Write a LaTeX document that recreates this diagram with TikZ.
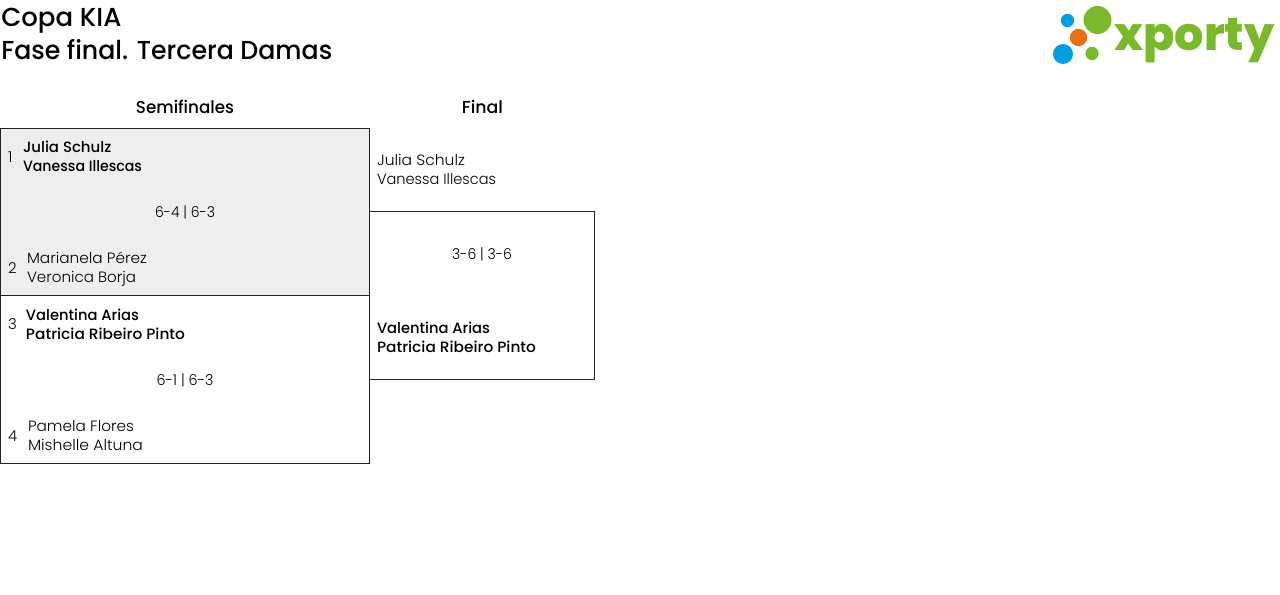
\documentclass[tikz,border=0pt]{standalone}
\usepackage{fontspec}
\setmainfont{Poppins}
\definecolor{xgreen}{HTML}{7AB929}
\definecolor{xblue}{HTML}{009EE3}
\definecolor{xorange}{HTML}{E9710A}
\definecolor{panel}{HTML}{EEEEEE}
\definecolor{ink}{HTML}{222222}
\newcommand{\fs}[1]{\fontsize{#1}{#1}\selectfont}
% text squeezed to a given width in reference pixels, height unchanged
\newcommand{\fitw}[2]{\resizebox{#1\dimexpr 0.75pt\relax}{\height}{#2}}
\tikzset{
  x=0.75pt,y=-0.75pt,
  boxa/.style={draw=ink,line width=0.75pt,rectangle,inner sep=0pt,outer sep=0pt,anchor=north west},
  txt/.style={anchor=base west,inner sep=0pt,outer sep=0pt,text=black,font=\fs{11.2}\fontspec{Poppins Light}},
  win/.style={txt,text=black,font=\fs{11.2}\fontspec{Poppins Medium}},
  mid/.style={txt,anchor=base},
  head/.style={anchor=base,inner sep=0pt,font=\fs{13}\fontspec{Poppins Medium}},
  ttl/.style={anchor=base west,inner sep=0pt,font=\fs{19.5}\fontspec{Poppins Medium}},
  dot/.style={circle,inner sep=0pt,outer sep=0pt}
}
\begin{document}
\begin{tikzpicture}
\useasboundingbox (0,0) rectangle (1280,595);
\fill[white] (0,0) rectangle (1280,595);
\node[ttl] (t1) at (1,27) {Copa KIA};
\node[ttl] (t2) at (1,60) {\fitw{331}{Fase final. Tercera Damas}};
\node[head] (h1) at (185,114) {\fitw{98}{Semifinales}};
\node[head] (h2) at (482.5,114) {Final};
% boxes
\node[boxa,fill=panel,minimum width=276.75pt,minimum height=125.25pt] (b1) at (0.5,128.5) {};
\node[boxa,minimum width=276.75pt,minimum height=126pt] (b2) at (0.5,295.5) {};
\node[boxa,minimum width=168.75pt,minimum height=126pt] (b3) at (369.5,211.5) {};
% semifinal 1
\node[txt] (n1) at (8,163) {1};
\node[win] (p1a) at (23,153) {Julia Schulz};
\node[win] (p1b) at (23,172) {\fitw{119}{Vanessa Illescas}};
\node[mid] (s1) at (185,218) {\fitw{60}{6-4 | 6-3}};
\node[txt] (n2) at (8,273) {2};
\node[txt] (p2a) at (27,263) {\fitw{120}{Marianela Pérez}};
\node[txt] (p2b) at (27,282) {\fitw{109}{Veronica Borja}};
% semifinal 2
\node[txt] (n3) at (8,329) {3};
\node[win] (p3a) at (26,320) {\fitw{113}{Valentina Arias}};
\node[win] (p3b) at (26,339) {\fitw{159}{Patricia Ribeiro Pinto}};
\node[mid] (s2) at (185,385) {\fitw{57}{6-1 | 6-3}};
\node[txt] (n4) at (8,441) {4};
\node[txt] (p4a) at (28,431) {\fitw{106}{Pamela Flores}};
\node[txt] (p4b) at (28,450) {\fitw{115}{Mishelle Altuna}};
% final
\node[txt] (f1a) at (377,166) {\fitw{88}{Julia Schulz}};
\node[txt] (f1b) at (377,185) {\fitw{119}{Vanessa Illescas}};
\node[mid] (s3) at (482,259) {\fitw{60}{3-6 | 3-6}};
\node[win] (f2a) at (377,333) {\fitw{113}{Valentina Arias}};
\node[win] (f2b) at (377,352) {\fitw{159}{Patricia Ribeiro Pinto}};
% logo
\node[dot,fill=xgreen,minimum size=21pt] (d1) at (1097.5,20) {};
\node[dot,fill=xblue,minimum size=10pt] (d2) at (1067.5,20.5) {};
\node[dot,fill=xorange,minimum size=13pt] (d3) at (1078.5,37.5) {};
\node[dot,fill=xblue,minimum size=15pt] (d4) at (1063,54) {};
\node[dot,fill=xgreen,minimum size=10pt] (d5) at (1092,53.5) {};
\node[anchor=base west,inner sep=0pt,text=xgreen] (lg) at (1114,51) {\resizebox{120pt}{!}{\fs{20}\fontspec{Poppins ExtraBold}xporty}};
\end{tikzpicture}
\end{document}
